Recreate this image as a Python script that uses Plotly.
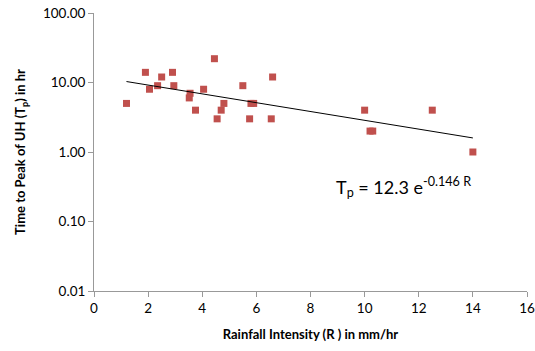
import plotly.graph_objects as go
import numpy as np

rain = [1.2, 1.9, 2.05, 2.35, 2.5, 2.9, 2.95, 3.52, 3.55, 3.75, 4.05, 4.45, 4.55, 4.7, 4.8,
        5.5, 5.75, 5.8, 5.9, 6.55, 6.6, 10.0, 10.2, 10.3, 12.5, 14.0]
tp = [5, 14, 8, 9, 12, 14, 9, 6, 7, 4, 8, 22, 3, 4, 5,
      9, 3, 5, 5, 3, 12, 4, 2, 2, 4, 1]

coef_a = 12.3
coef_b = -0.146
trend_x = [min(rain), max(rain)]

y_ticks = [0.01, 0.1, 1, 10, 100]
y_ticktext = ["0.01", "0.10", "1.00", "10.00", "100.00"]
x_ticks = [0, 2, 4, 6, 8, 10, 12, 14, 16]

tx = np.linspace(trend_x[0], trend_x[1], 50)
ty = coef_a * np.exp(coef_b * tx)

font_family = "Lato, 'Open Sans', sans-serif"

fig = go.Figure()
fig.add_trace(go.Scatter(x=rain, y=tp, mode="markers",
                         marker=dict(symbol="square", size=7, color="#C0504D"),
                         showlegend=False))
fig.add_trace(go.Scatter(x=tx, y=ty, mode="lines",
                         line=dict(color="#000000", width=1), showlegend=False))

fig.add_annotation(x=11.45, y=-0.51, xref="x", yref="y",
                   text="T<sub>p</sub> = 12.3 e<sup>-0.146 R</sup>",
                   showarrow=False, font=dict(size=18, color="#000000", family=font_family))

fig.update_layout(
    width=535, height=351,
    margin=dict(l=94, r=8, t=13, b=60),
    paper_bgcolor="white", plot_bgcolor="white",
    font=dict(family=font_family, size=13.5, color="#000000"),
    xaxis=dict(range=[0, 16], tickvals=x_ticks, showgrid=False, zeroline=False,
               automargin=False,
               showline=True, linecolor="#999999", linewidth=1,
               ticks="outside", ticklen=5, tickcolor="#999999",
               title=dict(text="<b>Rainfall Intensity (R ) in mm/hr</b>",
                          font=dict(size=13), standoff=14)),
    yaxis=dict(type="log", range=[-2, 2], tickvals=y_ticks, ticktext=y_ticktext,
               showgrid=False, zeroline=False, automargin=False,
               showline=True, linecolor="#999999", linewidth=1,
               ticks="outside", ticklen=5, tickcolor="#999999",
               title=dict(text="<b>Time to Peak of UH (T<sub>p</sub>) in hr</b>",
                          font=dict(size=13), standoff=14)),
)

fig.write_html("out.html", config={"displayModeBar": False},
               post_script="document.body.style.margin='0';")
